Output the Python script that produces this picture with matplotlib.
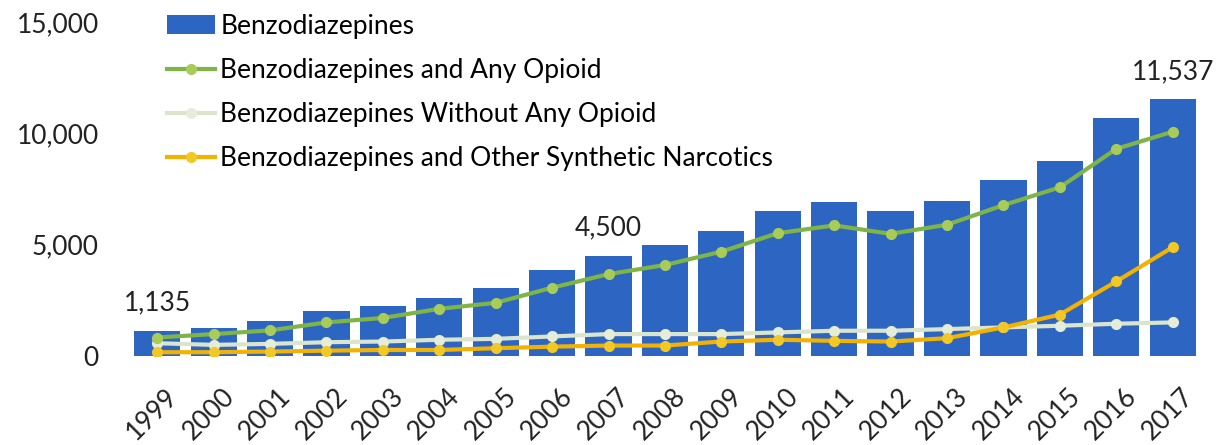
#importing modules
import matplotlib.pyplot as plt
import matplotlib.transforms as mtransforms
import numpy as np

plt.rcParams['font.family'] = ['Lato', 'DejaVu Sans']

#data
years = ['1999', '2000', '2001', '2002', '2003', '2004', '2005', '2006', '2007', '2008',
         '2009', '2010', '2011', '2012', '2013', '2014', '2015', '2016', '2017']
benzo = [1135, 1280, 1590, 2040, 2240, 2620, 3070, 3860, 4500, 5010,
         5600, 6500, 6900, 6500, 6960, 7900, 8780, 10700, 11537]
benzo_opioid = [830, 985, 1150, 1510, 1710, 2120, 2390, 3070, 3680, 4090,
                4690, 5520, 5870, 5490, 5900, 6780, 7580, 9310, 10080]
benzo_no_opioid = [575, 500, 545, 620, 650, 730, 770, 880, 985, 985,
                   985, 1060, 1135, 1135, 1210, 1285, 1360, 1450, 1510]
benzo_synth = [170, 170, 200, 240, 270, 270, 350, 420, 470, 470,
               650, 730, 680, 650, 800, 1285, 1860, 3350, 4890]
labelled = {'1999': '1,135', '2007': '4,500', '2017': '11,537'}

#creating the figure
fig = plt.figure(figsize=(12.3, 4.45), dpi=100)
ax = fig.add_axes([0.087, 0.2, 0.893, 0.75])

fs = 19
x = np.arange(len(years))
bars = ax.bar(x, benzo, width=0.82, color='#2d66c2', label='Benzodiazepines', zorder=1)
l1, = ax.plot(x, benzo_opioid, color='#7fb446', lw=3, marker='o', ms=7,
              mfc='#a9cc58', mec='#a9cc58', label='Benzodiazepines and Any Opioid', zorder=3)
l2, = ax.plot(x, benzo_no_opioid, color='#dbe5cc', lw=3, marker='o', ms=7,
              mfc='#e5edd9', mec='#e5edd9', label='Benzodiazepines Without Any Opioid', zorder=2)
l3, = ax.plot(x, benzo_synth, color='#f3b200', lw=3, marker='o', ms=7,
              mfc='#f2c827', mec='#f2c827', label='Benzodiazepines and Other Synthetic Narcotics', zorder=4)

#value labels above some bars
for i, yr in enumerate(years):
    if yr in labelled:
        ax.annotate(labelled[yr], (x[i], benzo[i]), xytext=(0, 11), textcoords='offset points',
                    ha='center', va='bottom', fontsize=fs, color='#222222')

ax.set_xlim(-0.89, 18.58)
ax.set_ylim(0, 15000)
ax.set_yticks([0, 5000, 10000, 15000])
ax.set_yticklabels(['0', '5,000', '10,000', '15,000'], fontsize=fs, color='#222222')
ax.set_xticks(x)
ax.set_xticklabels(years, rotation=45, ha='right', rotation_mode='anchor', fontsize=fs, color='#222222')
ax.tick_params(axis='y', length=0, pad=6)
ax.tick_params(axis='x', length=0, pad=20)
shift = mtransforms.ScaledTranslation(0.08, 0, fig.dpi_scale_trans)
for lab in ax.get_xticklabels():
    lab.set_transform(lab.get_transform() + shift)
for s in ax.spines.values():
    s.set_visible(False)

ax.legend([bars, l1, l2, l3], [h.get_label() for h in [bars, l1, l2, l3]],
          loc='upper left', bbox_to_anchor=(0.055, 1.025), frameon=False, fontsize=fs,
          handlelength=1.8, handletextpad=0.2, labelspacing=0.72, borderaxespad=0, borderpad=0)

fig.savefig('out.png', dpi=100)
